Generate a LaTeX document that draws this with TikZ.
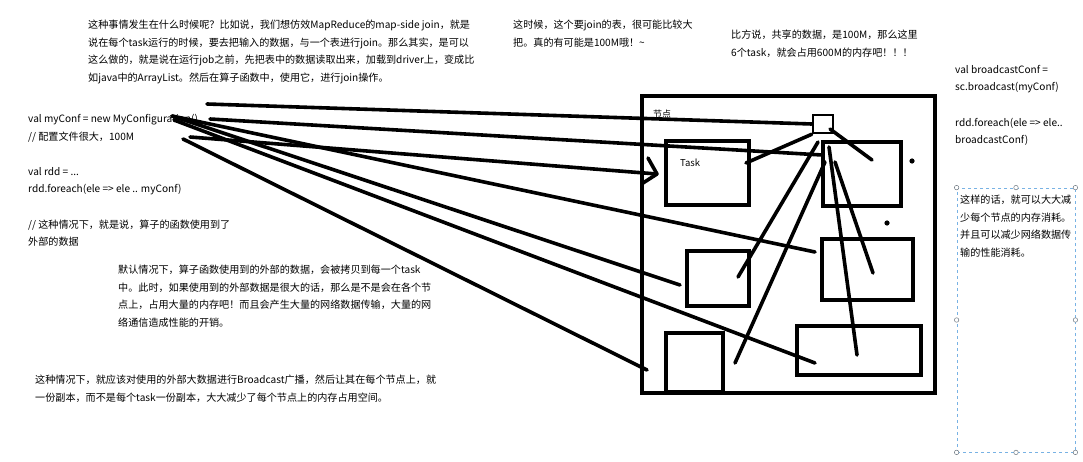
\documentclass[tikz,border=0pt]{standalone}
\usepackage{fontspec}
\setmainfont{Noto Sans CJK SC}
\definecolor{noteblue}{RGB}{120,178,228}
\definecolor{handlegray}{RGB}{110,120,130}
\tikzset{
  every picture/.style={x=1pt,y=-1pt},
  memo/.style={
    anchor=north west,
    inner sep=0,
    align=left,
    font=\fontsize{10.1}{17.6}\selectfont
  },
  workerbox/.style={
    draw,
    line width=3.6pt,
    inner sep=0
  },
  hubbox/.style={
    draw,
    line width=2.6pt,
    inner sep=0,
    minimum width=20pt,
    minimum height=18pt
  },
  pen/.style={line width=3.6pt, line cap=round},
  handle/.style={
    circle,
    draw=handlegray,
    fill=white,
    inner sep=0,
    minimum size=4.5pt,
    line width=0.5pt
  }
}
\begin{document}
\begin{tikzpicture}
  \fill[white] (0,0) rectangle (1083,462);
  \useasboundingbox (0,0) rectangle (1083,462);

  % texts
  \node[memo] (when) at (88,20) {这种事情发生在什么时候呢？比如说，我们想仿效MapReduce的map-side join，就是\\
    说在每个task运行的时候，要去把输入的数据，与一个表进行join。那么其实，是可以\\
    这么做的，就是说在运行job之前，先把表中的数据读取出来，加载到driver上，变成比\\
    如java中的ArrayList。然后在算子函数中，使用它，进行join操作。};
  \node[memo] (big) at (513,20) {这时候，这个要join的表，很可能比较大\\把。真的有可能是100M哦！\textasciitilde};
  \node[memo] (cost) at (731,30) {比方说，共享的数据，是100M，那么这里\\6个task，就会占用600M的内存吧！！！};
  \node[memo] (code) at (28,114) {val myConf = new MyConfiguration()\\
    // 配置文件很大，100M\\[17.6pt]
    val rdd = ...\\
    rdd.foreach(ele => ele .. myConf)\\[17.6pt]
    // 这种情况下，就是说，算子的函数使用到了\\
    外部的数据};
  \node[memo] (copy) at (118,265) {默认情况下，算子函数使用到的外部的数据，会被拷贝到每一个task\\
    中。此时，如果使用到的外部数据是很大的话，那么是不是会在各个节\\
    点上，占用大量的内存吧！而且会产生大量的网络数据传输，大量的网\\
    络通信造成性能的开销。};
  \node[memo] (bcast) at (35,375) {这种情况下，就应该对使用的外部大数据进行Broadcast广播，然后让其在每个节点上，就\\
    一份副本，而不是每个task一份副本，大大减少了每个节点上的内存占用空间。};
  \node[memo] (bcode) at (955,65) {val broadcastConf =\\
    sc.broadcast(myConf)\\[17.6pt]
    rdd.foreach(ele => ele..\\
    broadcastConf)};

  % dashed note
  \node[draw=noteblue, dashed, line width=0.8pt, inner sep=0,
    minimum width=118pt, minimum height=264pt] (note) at (1016,320) {};
  \node[memo] (notetext) at (960,195) {这样的话，就可以大大减\\少每个节点的内存消耗。\\并且可以减少网络数据传\\输的性能消耗。};
  \foreach \a in {north west,north,north east,west,east,south west,south,south east}
    \node[handle] at (note.\a) {};

  % worker node
  \node[workerbox, minimum width=293pt, minimum height=297pt] (worker) at (788.5,244.5) {};
  \node[anchor=west, inner sep=0, font=\fontsize{9}{10}\selectfont] (wlabel) at (653,114) {节点};
  \node[hubbox] (hub) at (823,124) {};
  \node[workerbox, minimum width=83pt, minimum height=64pt] (task) at (707.5,173) {};
  \node[anchor=west, inner sep=0, font=\fontsize{9.5}{10}\selectfont] (tasklabel) at (680,163) {Task};
  \node[workerbox, minimum width=78pt, minimum height=64pt] (tr) at (862,174) {};
  \node[workerbox, minimum width=62pt, minimum height=55pt] (ml) at (718,278.5) {};
  \node[workerbox, minimum width=91pt, minimum height=61pt] (mr) at (867.5,269.5) {};
  \node[workerbox, minimum width=57pt, minimum height=59pt] (bl) at (694.5,362.5) {};
  \node[workerbox, minimum width=124pt, minimum height=49pt] (br) at (859,350.5) {};
  \fill (912,161) circle (2.6pt);
  \fill (887,223) circle (2.6pt);

  % copies sent from the driver
  \coordinate (s1) at (207,104);
  \coordinate (s2) at (210,119);
  \coordinate (s3) at (190,137);
  \coordinate (s4) at (172,116);
  \coordinate (s5) at (174,120);
  \coordinate (s6) at (183,139);
  \coordinate (arrowtip) at (657,174);
  \draw[pen] (s1) -- (hub.west);
  \draw[pen] (s2) -- (822,155) coordinate (e2);
  \draw[pen] (s3) -- (arrowtip);
  \draw[pen, line join=round] (648,158) -- (arrowtip) -- (643,183);
  \draw[pen] (s4) -- (815,252) coordinate (e4);
  \draw[pen] (s4) -- (680,285) coordinate (e5);
  \draw[pen] (s5) -- (815,363) coordinate (e6);
  \draw[pen] (s6) -- (647,370) coordinate (e7);

  % from the shared copy to the tasks
  \draw[pen] (hub.south west) -- (746,163) coordinate (h1);
  \draw[pen] (830,129) -- (872,160) coordinate (h2);
  \draw[pen] (818,142) -- (738,277) coordinate (h3);
  \draw[pen] (825,162) -- (735,363) coordinate (h4);
  \draw[pen] (829,147) -- (857,355) coordinate (h5);
  \draw[pen] (835,162) -- (873,273) coordinate (h6);
\end{tikzpicture}
\end{document}
